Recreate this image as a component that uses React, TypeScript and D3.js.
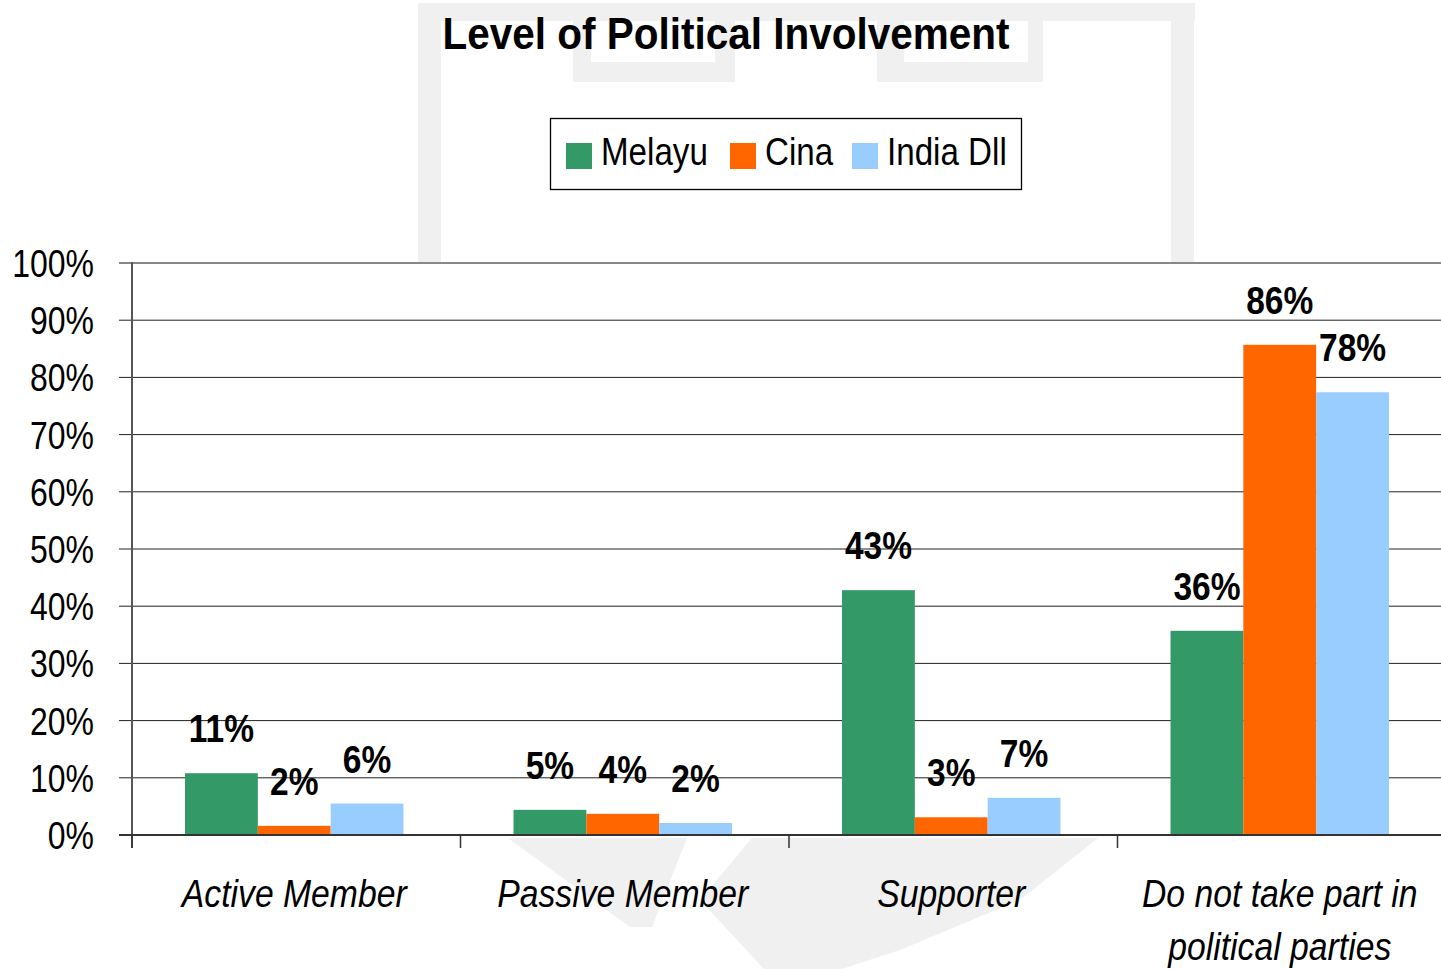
import React from "react";
import * as d3 from "d3";

const categories = ["Active Member", "Passive Member", "Supporter", "Do not take part in|political parties"];
const seriesNames = ["Melayu", "Cina", "India Dll"];
const melayu = [10.8, 4.4, 42.8, 35.7];
const cina = [1.6, 3.7, 3.1, 85.7];
const india = [5.5, 2.1, 6.5, 77.4];
const labelMelayu = ["11%", "5%", "43%", "36%"];
const labelCina = ["2%", "4%", "3%", "86%"];
const labelIndia = ["6%", "2%", "7%", "78%"];
const yTicks = [0, 10, 20, 30, 40, 50, 60, 70, 80, 90, 100];
const colors = ["#339966", "#FF6600", "#99CCFF"];

const W = 1441, H = 969;
const left = 132, right = 1446, top = 263, bottom = 835;
const FONT = "'Liberation Sans', Arial, sans-serif";

function NText(props: { x: number; y: number; anchor?: string; size: number; sx?: number; bold?: boolean; italic?: boolean; children: React.ReactNode }) {
  const { x, y, anchor = "start", size, sx = 0.82, bold, italic, children } = props;
  return (
    <text
      transform={`translate(${x},${y}) scale(${sx},1)`}
      textAnchor={anchor}
      fontFamily={FONT}
      fontSize={size}
      fontWeight={bold ? "bold" : "normal"}
      fontStyle={italic ? "italic" : "normal"}
      fill="#000"
    >
      {children}
    </text>
  );
}

export default function App() {
  const x = d3.scaleBand<string>().domain(categories).range([left, right]).paddingInner(0).paddingOuter(0);
  const y = d3.scaleLinear().domain([0, 100]).range([bottom, top]);
  const groupW = x.bandwidth() * 0.665;
  const xs = d3.scaleBand<string>().domain(seriesNames).range([0, groupW]);
  const series = [melayu, cina, india];
  const labels = [labelMelayu, labelCina, labelIndia];
  const legendX = [566, 730, 852];

  return (
    <div style={{ position: "absolute", left: 0, top: 0 }}>
      <svg width={W} height={H} style={{ display: "block", background: "#fff" }}>
        {/* watermark */}
        <g fill="#f0f0f0">
          <rect x={418} y={3} width={777} height={18} />
          <rect x={418} y={3} width={23} height={260} />
          <rect x={1171} y={3} width={23} height={260} />
          <path d="M573,21 H735 V82 H573 Z M591,21 V62 H715 V21 Z" fillRule="evenodd" />
          <path d="M877,21 H1043 V82 H877 Z M904,21 V62 H1028 V21 Z" fillRule="evenodd" />
          <polygon points="508,838 687,838 652,927 630,927" />
          <polygon points="752,838 1098,838 1020,900 900,950 842,969 764,969 700,900" />
        </g>
        {/* title */}
        <NText x={726} y={49} anchor="middle" size={45} sx={0.9} bold>Level of Political Involvement</NText>
        {/* legend */}
        <rect x={550.5} y={118.5} width={471} height={71} fill="#fff" stroke="#000" strokeWidth={1.3} />
        {seriesNames.map((s, i) => (
          <g key={s}>
            <rect x={legendX[i]} y={143} width={26} height={26} fill={colors[i]} />
            <NText x={legendX[i] + 35} y={165} size={39} sx={0.85}>{s}</NText>
          </g>
        ))}
        {/* gridlines */}
        {yTicks.map((t) => (
          <g key={t}>
            <line x1={119} x2={W} y1={y(t)} y2={y(t)} stroke={t === 100 ? "#888" : "#222"} strokeWidth={t === 100 ? 2 : 1} />
            <NText x={94} y={y(t) + 14} anchor="end" size={39}>{`${t}%`}</NText>
          </g>
        ))}
        {/* bars */}
        {categories.map((c, ci) => {
          const gx = x(c)! + (x.bandwidth() - groupW) / 2 - 2;
          return (
            <g key={c}>
              {series.map((vals, si) => {
                const bx = gx + xs(seriesNames[si])!;
                return (
                  <g key={si}>
                    <rect x={bx} y={y(vals[ci])} width={xs.bandwidth()} height={bottom - y(vals[ci])} fill={colors[si]} />
                    <NText x={bx + xs.bandwidth() / 2} y={y(vals[ci]) - 31} anchor="middle" size={39} sx={0.86} bold>
                      {labels[si][ci]}
                    </NText>
                  </g>
                );
              })}
            </g>
          );
        })}
        {/* axes */}
        <line x1={132} x2={132} y1={top - 1} y2={848} stroke="#555" strokeWidth={2} />
        <line x1={119} x2={W} y1={bottom} y2={bottom} stroke="#333" strokeWidth={2} />
        {categories.map((c) => (
          <line key={c} x1={x(c)!} x2={x(c)!} y1={bottom} y2={848} stroke="#333" strokeWidth={1.5} />
        ))}
        {categories.map((c) => {
          const lines = c.split("|");
          const cx = x(c)! + x.bandwidth() / 2 - 2;
          return (
            <g key={c}>
              {lines.map((l, i) => (
                <NText key={i} x={cx} y={907 + i * 53} anchor="middle" size={39} sx={0.865} italic>{l}</NText>
              ))}
            </g>
          );
        })}
      </svg>
    </div>
  );
}
